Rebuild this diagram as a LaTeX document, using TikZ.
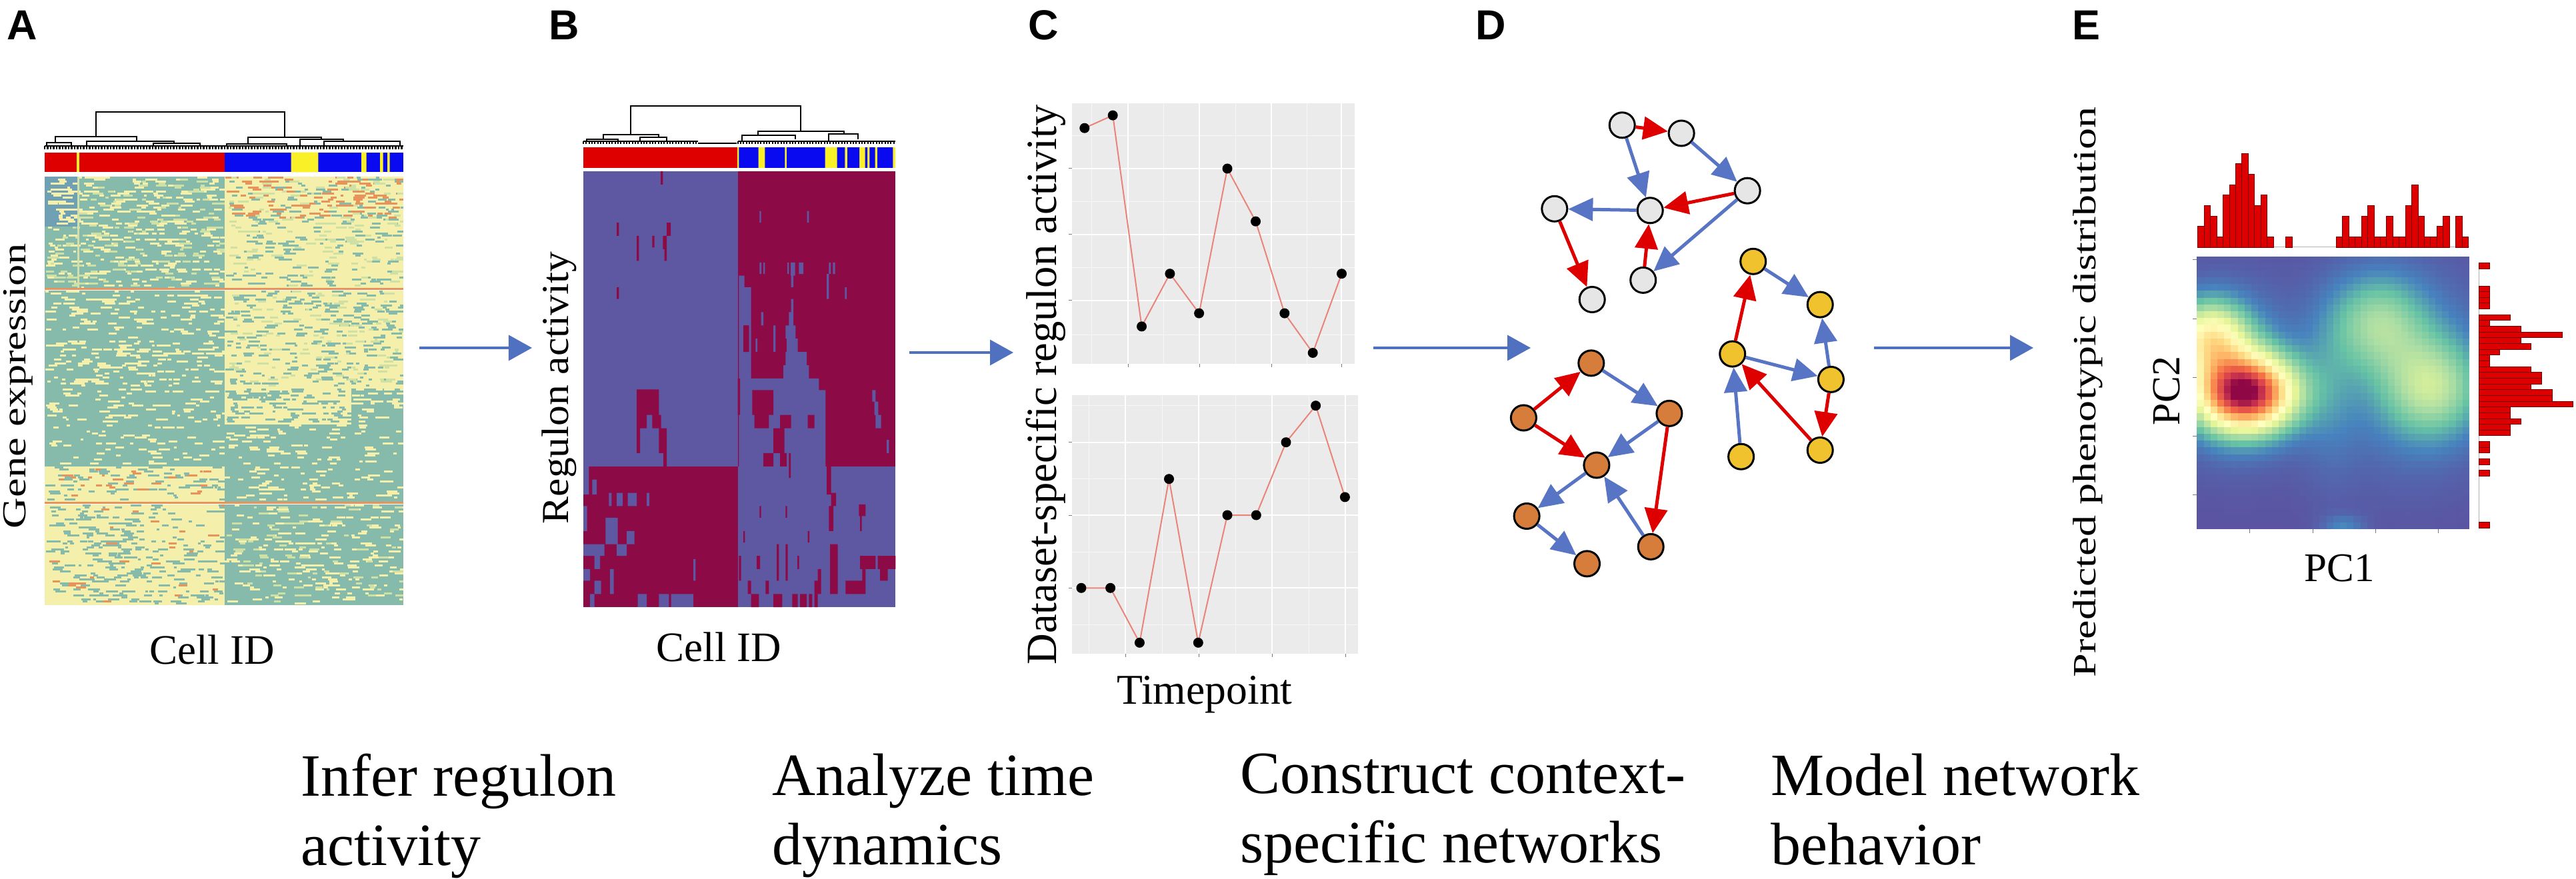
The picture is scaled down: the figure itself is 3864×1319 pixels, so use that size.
\documentclass[tikz,border=0pt]{standalone}
\usepackage{fontspec}
\usepackage{graphicx}
\setmainfont{Liberation Serif}
\setsansfont{Liberation Sans}
\usetikzlibrary{arrows.meta}
\usetikzlibrary{positioning}
\definecolor{flowblue}{RGB}{80,112,192}
\definecolor{edgered}{RGB}{222,0,0}
\definecolor{edgeblue}{RGB}{88,116,196}
\definecolor{nodegrey}{RGB}{230,230,230}
\definecolor{nodeorange}{RGB}{214,125,60}
\definecolor{nodeyellow}{RGB}{240,194,46}
\definecolor{hmteal}{RGB}{134,186,170}
\definecolor{hmdeep}{RGB}{112,160,180}
\definecolor{hmyellow}{RGB}{244,240,172}
\definecolor{hmlime}{RGB}{206,224,164}
\definecolor{hmorange}{RGB}{232,146,92}
\definecolor{barred}{RGB}{222,0,0}
\definecolor{barblue}{RGB}{10,10,240}
\definecolor{baryellow}{RGB}{250,240,40}
\definecolor{actblue}{RGB}{94,88,163}
\definecolor{actred}{RGB}{140,10,70}
\definecolor{gggrey}{RGB}{235,235,235}
\definecolor{ggtick}{RGB}{120,120,120}
\definecolor{ggtrace}{RGB}{232,132,122}
\definecolor{histred}{RGB}{222,0,0}
\definecolor{histedge}{RGB}{110,0,0}
\definecolor{sp0}{HTML}{5B53A1}
\definecolor{sp1}{HTML}{4782BE}
\definecolor{sp2}{HTML}{66C2A5}
\definecolor{sp3}{HTML}{ABDDA4}
\definecolor{sp4}{HTML}{E6F598}
\definecolor{sp5}{HTML}{FFFFBF}
\definecolor{sp6}{HTML}{FEE08B}
\definecolor{sp7}{HTML}{FDAE61}
\definecolor{sp8}{HTML}{F46D43}
\definecolor{sp9}{HTML}{D53E4F}
\definecolor{sp10}{HTML}{8E0645}
\newcommand\fsstep{\fontsize{25.6pt}{29.6pt}\selectfont}
\newcommand\fsaxis{\fontsize{17.9pt}{20pt}\selectfont}
\newcommand\fspanel{\sffamily\bfseries\fontsize{17.9pt}{20pt}\selectfont}
\tikzset{flow/.style = {flowblue, line width=0.035cm, -{Triangle[length=0.35cm, width=0.38cm]}}}
\tikzset{gene/.style = {circle, draw=black, line width=0.03cm, minimum size=0.38cm, inner sep=0}}
\tikzset{redarc/.style = {edgered, line width=0.05cm, -{Triangle[length=0.37cm, width=0.34cm]}}}
\tikzset{bluearc/.style = {edgeblue, line width=0.05cm, -{Triangle[length=0.37cm, width=0.34cm]}}}
\tikzset{dendro/.style = {black, line width=0.021cm}}
\tikzset{ggmajor/.style = {white, line width=0.02cm}}
\tikzset{ggminor/.style = {white!60!gggrey, line width=0.01cm}}
\tikzset{ggaxis/.style = {ggtick, line width=0.01cm}}
\tikzset{histbar/.style = {fill=histred, draw=histedge, line width=0.008cm}}
\tikzset{steplabel/.style = {anchor=north west, align=left, inner sep=0, font=\fsstep}}
\tikzset{panel/.style = {anchor=base west, inner sep=0, font=\fspanel}}
\tikzset{declare function={
  gs(\ux,\uy,\ca,\cb,\wa,\wc)=exp(-min(0.5*(((\ux-\ca)/\wa)*((\ux-\ca)/\wa)+((\uy-\cb)/\wc)*((\uy-\cb)/\wc)),9));
  dens(\ux,\uy)=0.92*gs(\ux,\uy,3368,590,52,40)+0.45*gs(\ux,\uy,3315,505,40,38)
    +0.12*gs(\ux,\uy,3350,560,70,85)+0.22*gs(\ux,\uy,3565,482,50,50)
    +0.25*gs(\ux,\uy,3650,582,50,52)+0.12*gs(\ux,\uy,3610,560,85,100)
    +0.06*gs(\ux,\uy,3495,600,30,90)+0.1*gs(\ux,\uy,3515,790,22,12);
}}
\newcommand\hmspeck[6]{%
  \foreach \k in {1,...,#6}{%
    \pgfmathsetmacro\sx{#1+rnd*(#2-#1-4)}%
    \pgfmathsetmacro\se{min(\sx+4+rnd*14,#2)}%
    \pgfmathsetmacro\sy{#3+3*int(rnd*(#4-#3-3)/3)}%
    \fill[#5] (\sx,\sy) rectangle (\se,\sy+3);}}
\newcommand\hmband[7]{%
  \fill[#5] (#1,#3) rectangle (#2,#4);
  \hmspeck{#1}{#2}{#3}{#4}{#6}{#7}}
\newcommand\leafcomb[5]{%
  \draw[dendro] (#1,#3) -- (#2,#3);
  \pgfmathtruncatemacro\nleaf{(#2-#1)/#5}%
  \foreach \k in {0,...,\nleaf}{\draw[dendro] ({#1+\k*#5},#3) -- ({#1+\k*#5},#4);}}

\begin{document}
\begin{tikzpicture}[x=0.01cm, y=-0.01cm]
\useasboundingbox (0,0) rectangle (3864,1319);
\fill[white] (0,0) rectangle (3864,1319);
\pgfmathsetseed{11}

\node[panel] (lblA) at (10,60) {A};
\node[panel] (lblB) at (823,60) {B};
\node[panel] (lblC) at (1542,60) {C};
\node[panel] (lblD) at (2213,60) {D};
\node[panel] (lblE) at (3108,60) {E};

% gene expression heatmap
\draw[dendro] (144.4,204.7) |- (427.4,168.4) -- (427.4,206);
\draw[dendro] (83.3,214) |- (205.4,204.7) -- (205.4,211.6);
\draw[dendro] (371.9,216) |- (482.2,206) -- (482.2,208.7);
\draw[dendro] (70,219) |- (107,214) -- (107,219);
\draw[dendro] (130,219) |- (261,211.6) -- (261,215);
\draw[dendro] (230,219) |- (300,215) -- (300,219);
\draw[dendro] (340,219) |- (430,216) -- (430,219);
\draw[dendro] (450,219) |- (515,208.7) -- (515,212);
\draw[dendro] (486,219) |- (600,212) -- (600,219);
\leafcomb{67}{605}{219}{224}{4.5}
\fill[barred] (66.6,228.6) rectangle (336.8,258.4);
\fill[baryellow] (115,228.6) rectangle (119,258.4);
\fill[barblue] (336.8,228.6) rectangle (605,258.4);
\fill[baryellow] (436.7,228.6) rectangle (477.4,258.4) (542,228.6) rectangle (549.5,258.4)
  (570,228.6) rectangle (574.7,258.4) (581,228.6) rectangle (584.7,258.4);
\hmband{67}{337}{265}{434}{hmteal}{hmyellow}{340}
\hmspeck{67}{337}{265}{434}{hmlime}{160}
\hmband{67}{116}{265}{340}{hmdeep}{hmyellow}{40}
\fill[hmyellow!70!hmteal] (116,265) rectangle (119,434);
\hmband{337}{605}{265}{434}{hmyellow}{hmteal}{220}
\hmspeck{337}{605}{265}{330}{hmorange}{120}
\hmspeck{337}{605}{265}{434}{hmlime}{120}
\fill[hmorange] (67,432) rectangle (605,435);
\hmband{67}{337}{436}{511}{hmteal}{hmyellow}{120}
\hmband{337}{605}{436}{511}{hmyellow}{hmteal}{140}
\hmband{67}{337}{511}{583}{hmteal}{hmyellow}{160}
\hmband{337}{605}{511}{583}{hmyellow}{hmteal}{120}
\hmspeck{337}{605}{436}{583}{hmlime}{100}
\hmband{67}{337}{583}{637}{hmteal}{hmyellow}{70}
\hmband{337}{527}{583}{637}{hmyellow}{hmteal}{120}
\hmband{527}{605}{583}{637}{hmteal}{hmyellow}{30}
\hmband{67}{337}{637}{700}{hmteal}{hmyellow}{60}
\hmband{337}{605}{637}{700}{hmteal}{hmyellow}{70}
\hmband{67}{337}{700}{754}{hmyellow}{hmteal}{90}
\hmspeck{67}{337}{700}{754}{hmorange}{24}
\hmband{337}{605}{700}{754}{hmteal}{hmyellow}{70}
\fill[hmorange] (67,753) rectangle (605,756);
\hmband{67}{337}{757}{908}{hmyellow}{hmteal}{240}
\hmspeck{117}{216}{757}{908}{hmteal}{80}
\hmspeck{67}{337}{757}{908}{hmorange}{24}
\hmband{337}{605}{757}{908}{hmteal}{hmyellow}{200}
\hmspeck{337}{605}{757}{908}{hmlime}{80}
\node[rotate=90, inner sep=0] (ylabA) at (27,579) {\fontsize{18.35pt}{20pt}\selectfont\scalebox{1}[0.78]{Gene expression}};
\node[anchor=base, inner sep=0, font=\fsaxis] (xlabA) at (318,996) {Cell ID};

% regulon activity heatmap
\begin{scope}[shift={(860,150)}, xscale=0.33333, yscale=0.49751]
\draw[dendro] (257,105) |- (1023,18) -- (1023,95);
\draw[dendro] (135,118) |- (383,105) -- (383,112);
\draw[dendro] (830,107) |- (1217,95) -- (1217,103);
\draw[dendro] (60,125) |- (200,118) -- (200,125);
\draw[dendro] (300,125) |- (420,112) -- (420,125);
\draw[dendro] (760,125) |- (1000,107) -- (1000,118);
\draw[dendro] (1150,125) |- (1280,103) -- (1280,118);
\leafcomb{45}{560}{125}{132}{13}
\draw[dendro] (560,130) -- (735,130);
\leafcomb{740}{1450}{125}{132}{13}
\fill[barred] (45,143) rectangle (737,205);
\fill[baryellow] (737,143) rectangle (1450,205);
\fill[barblue] (745,143) rectangle (833,205) (862,143) rectangle (952,205) (960,143) rectangle (1133,205)
  (1187,143) rectangle (1222,205) (1233,143) rectangle (1287,205) (1313,143) rectangle (1323,205)
  (1333,143) rectangle (1358,205) (1368,143) rectangle (1438,205);
\fill[actblue] (45,215) rectangle (1450,1530);
\fill[actred] (740,215) rectangle (1450,1105);
\fill[actred] (45,1105) rectangle (740,1530);
\fill[actblue] (745,530) rectangle (770,565) (745,565) rectangle (800,680) (745,680) rectangle (765,1105)
  (790,680) rectangle (800,1105) (765,760) rectangle (790,1105)
  (838,335) rectangle (845,370) (1052,335) rectangle (1060,370)
  (838,490) rectangle (846,525) (855,490) rectangle (862,525)
  (963,490) rectangle (970,525) (978,490) rectangle (998,530) (1015,490) rectangle (1035,525)
  (1150,490) rectangle (1158,525) (1168,490) rectangle (1178,525)
  (980,525) rectangle (990,565) (1140,525) rectangle (1150,600) (1222,565) rectangle (1230,600)
  (980,600) rectangle (990,640) (970,640) rectangle (990,680) (845,640) rectangle (855,680)
  (820,720) rectangle (828,760) (900,680) rectangle (910,760)
  (955,680) rectangle (1000,720) (960,720) rectangle (1010,760) (955,760) rectangle (1050,800)
  (945,800) rectangle (1060,840) (800,840) rectangle (1105,875) (800,875) rectangle (1135,1105)
  (1345,875) rectangle (1360,910) (1355,910) rectangle (1372,950) (1360,950) rectangle (1385,990)
  (1410,1025) rectangle (1420,1065)
  (45,1105) rectangle (70,1190) (85,1145) rectangle (105,1190)
  (160,1185) rectangle (172,1225) (195,1185) rectangle (222,1225) (245,1185) rectangle (285,1225)
  (330,1185) rectangle (342,1225) (45,1225) rectangle (62,1300)
  (145,1260) rectangle (200,1340) (240,1300) rectangle (275,1340)
  (45,1340) rectangle (140,1375) (195,1340) rectangle (240,1375) (95,1375) rectangle (120,1415)
  (45,1415) rectangle (75,1450) (165,1415) rectangle (182,1490) (95,1450) rectangle (125,1490)
  (75,1490) rectangle (95,1530) (290,1490) rectangle (330,1530) (385,1490) rectangle (430,1530)
  (440,1490) rectangle (540,1530) (540,1385) rectangle (550,1450);
\fill[actred] (393,215) rectangle (403,255)
  (195,370) rectangle (205,410) (420,370) rectangle (438,410)
  (285,410) rectangle (295,485) (355,410) rectangle (365,445) (403,410) rectangle (420,450)
  (410,450) rectangle (420,485) (195,565) rectangle (205,600)
  (285,873) rectangle (385,950) (285,950) rectangle (330,990) (355,950) rectangle (395,990)
  (285,990) rectangle (300,1065) (385,990) rectangle (420,1065) (405,1065) rectangle (420,1105)
  (765,680) rectangle (790,760) (740,840) rectangle (750,950)
  (805,875) rectangle (900,950) (815,950) rectangle (880,990) (930,950) rectangle (980,990)
  (900,990) rectangle (950,1065) (1055,950) rectangle (1085,990)
  (855,1065) rectangle (900,1105) (930,1065) rectangle (960,1105) (970,1065) rectangle (978,1140)
  (1140,1105) rectangle (1160,1190) (1160,1185) rectangle (1182,1225) (1150,1225) rectangle (1170,1300)
  (1155,1340) rectangle (1190,1490)
  (1285,1220) rectangle (1315,1255) (1290,1255) rectangle (1298,1300)
  (1290,1375) rectangle (1360,1415) (1370,1375) rectangle (1450,1415) (1380,1415) rectangle (1415,1450)
  (1225,1450) rectangle (1315,1490) (1300,1415) rectangle (1315,1450)
  (838,1225) rectangle (845,1260) (955,1225) rectangle (962,1260) (765,1300) rectangle (772,1335)
  (1055,1300) rectangle (1062,1335) (745,1375) rectangle (755,1450) (825,1375) rectangle (840,1415)
  (915,1340) rectangle (925,1450) (955,1340) rectangle (965,1450) (1008,1375) rectangle (1016,1415)
  (785,1450) rectangle (800,1490) (865,1450) rectangle (880,1490) (1100,1415) rectangle (1115,1490)
  (1085,1450) rectangle (1100,1530) (800,1490) rectangle (835,1530) (900,1490) rectangle (940,1530)
  (985,1490) rectangle (1010,1530) (1020,1490) rectangle (1050,1530) (1060,1490) rectangle (1075,1530);
\end{scope}
\node[rotate=90, inner sep=0] (ylabB) at (839,582) {\fontsize{17.5pt}{20pt}\selectfont\scalebox{1}[0.93]{Regulon activity}};
\node[anchor=base, inner sep=0, font=\fsaxis] (xlabB) at (1078.5,992) {Cell ID};

% time courses
\fill[gggrey] (1608,155) rectangle (2032,546);
\foreach \yy in {203.9,302.5,401.5,502.4} \draw[ggminor] (1608,\yy) -- (2032,\yy);
\foreach \xx in {1637,1745,1853,1960} \draw[ggminor] (\xx,155) -- (\xx,546);
\foreach \yy in {253,352,451} {\draw[ggmajor] (1608,\yy) -- (2032,\yy); \draw[ggaxis] (1603,\yy) -- (1608,\yy);}
\foreach \xx in {1692,1799,1907,2012} {\draw[ggmajor] (\xx,155) -- (\xx,546); \draw[ggaxis] (\xx,546) -- (\xx,551);}
\draw[ggtrace, line width=0.02cm] plot coordinates {(1626.8,192.2) (1669.2,173.1) (1712.5,489.9) (1754.9,410.7) (1798.6,470.1) (1841,253) (1883.5,332.2) (1926.8,470.1) (1969.2,529.5) (2012.5,410.7)};
\foreach \pt in {(1626.8,192.2),(1669.2,173.1),(1712.5,489.9),(1754.9,410.7),(1798.6,470.1),(1841,253),(1883.5,332.2),(1926.8,470.1),(1969.2,529.5),(2012.5,410.7)}
  \fill[black] \pt circle[radius=7.5];
\fill[gggrey] (1608,593) rectangle (2037,981);
\foreach \yy in {608.7,718.7,828.7,937.3} \draw[ggminor] (1608,\yy) -- (2037,\yy);
\foreach \xx in {1633,1743,1853,1963} \draw[ggminor] (\xx,593) -- (\xx,981);
\foreach \yy in {663.7,773,882.3} {\draw[ggmajor] (1608,\yy) -- (2037,\yy); \draw[ggaxis] (1603,\yy) -- (1608,\yy);}
\foreach \xx in {1688,1798,1908,2018} {\draw[ggmajor] (\xx,593) -- (\xx,981); \draw[ggaxis] (\xx,981) -- (\xx,986);}
\draw[ggtrace, line width=0.02cm] plot coordinates {(1621.9,882.3) (1665.6,882.3) (1709.4,964.4) (1753.5,718.7) (1797.3,964.4) (1841,773) (1884.3,773) (1929,663.7) (1973.6,608.7) (2017.4,745.9)};
\foreach \pt in {(1621.9,882.3),(1665.6,882.3),(1709.4,964.4),(1753.5,718.7),(1797.3,964.4),(1841,773),(1884.3,773),(1929,663.7),(1973.6,608.7),(2017.4,745.9)}
  \fill[black] \pt circle[radius=7.5];
\node[rotate=90, inner sep=0] (ylabC) at (1568.5,577.5) {\fontsize{18.38pt}{20pt}\selectfont Dataset-specific regulon activity};
\node[anchor=base, inner sep=0, font=\fontsize{18.1pt}{20pt}\selectfont] (xlabC) at (1807,1056) {Timepoint};

% context-specific networks
\node[gene, fill=nodegrey] (g1) at (2433.2,187.8) {};
\node[gene, fill=nodegrey] (g2) at (2522.1,200) {};
\node[gene, fill=nodegrey] (g3) at (2621.1,286.2) {};
\node[gene, fill=nodegrey] (g4) at (2475.2,315.8) {};
\node[gene, fill=nodegrey] (g5) at (2331.8,313.3) {};
\node[gene, fill=nodegrey] (g6) at (2464.7,420.4) {};
\node[gene, fill=nodegrey] (g7) at (2388.2,449.5) {};
\draw[redarc] (g1) -- (g2);
\draw[bluearc] (g1) -- (g4);
\draw[bluearc] (g2) -- (g3);
\draw[redarc] (g3) -- (g4);
\draw[bluearc] (g3) -- (g6);
\draw[bluearc] (g4) -- (g5);
\draw[redarc] (g6) -- (g4);
\draw[redarc] (g5) -- (g7);
\node[gene, fill=nodeorange] (o1) at (2386.8,544.9) {};
\node[gene, fill=nodeorange] (o2) at (2285.4,627) {};
\node[gene, fill=nodeorange] (o3) at (2503.9,620.4) {};
\node[gene, fill=nodeorange] (o4) at (2394.9,698) {};
\node[gene, fill=nodeorange] (o5) at (2290.1,774.5) {};
\node[gene, fill=nodeorange] (o6) at (2476.2,820.4) {};
\node[gene, fill=nodeorange] (o7) at (2380.5,845.9) {};
\draw[redarc] (o2) -- (o1);
\draw[bluearc] (o1) -- (o3);
\draw[redarc] (o2) -- (o4);
\draw[bluearc] (o3) -- (o4);
\draw[redarc] (o3) -- (o6);
\draw[bluearc] (o6) -- (o4);
\draw[bluearc] (o4) -- (o5);
\draw[bluearc] (o5) -- (o7);
\node[gene, fill=nodeyellow] (y1) at (2629.7,392.3) {};
\node[gene, fill=nodeyellow] (y2) at (2730.2,457.1) {};
\node[gene, fill=nodeyellow] (y3) at (2598.7,531.1) {};
\node[gene, fill=nodeyellow] (y4) at (2746.4,569.4) {};
\node[gene, fill=nodeyellow] (y5) at (2730.2,675.5) {};
\node[gene, fill=nodeyellow] (y6) at (2611.6,685.2) {};
\draw[redarc] (y3) -- (y1);
\draw[bluearc] (y1) -- (y2);
\draw[bluearc] (y4) -- (y2);
\draw[bluearc] (y3) -- (y4);
\draw[redarc] (y4) -- (y5);
\draw[redarc] (y5) -- (y3);
\draw[bluearc] (y6) -- (y3);

% phenotype distribution
\foreach \i in {0,...,39}{
  \foreach \j in {0,...,39}{
    \pgfmathsetmacro\v{dens(3295.3+(\i+0.5)*10.22,385.3+(\j+0.5)*10.22)}
    \pgfmathsetmacro\pos{10*min(\v,0.999)}
    \pgfmathtruncatemacro\lo{\pos}
    \pgfmathtruncatemacro\hi{\lo+1}
    \pgfmathtruncatemacro\mix{100*(\pos-\lo)}
    \fill[sp\hi!\mix!sp\lo] ({3295.3+\i*10.22},{385.3+\j*10.22}) rectangle +(10.4,10.4);
  }}
\foreach \yy in {390,478.3,566.7,655,742.3} \draw[ggaxis] (3289,\yy) -- (3295.3,\yy);
\foreach \xx in {3374.3,3469,3563,3657.3} \draw[ggaxis] (\xx,794) -- (\xx,800);
\draw[ggaxis, gray!60] (3296.7,371) -- (3704,371);
\foreach \h [count=\k from 0] in {2,4,3,1,5,6,8,9,7,4,5,1,0,0,1,0,0,0,0,0,0,0,1,3,1,1,3,4,1,1,3,1,1,4,6,3,1,1,2,3,0,3,1}
  {\ifnum\h>0 \draw[histbar] ({3296.7+\k*9.434},371) rectangle +(9.434,{-\h*15.67}); \fi}
\draw[ggaxis, gray!60] (3718.3,394.3) -- (3718.3,792.3);
\foreach \h [count=\k from 0] in {1,0,0,0,1,1,1,1,0,3,1,4,8,4,5,2,1,1,5,6,6,5,7,7,9,3,3,4,3,3,0,1,1,0,1,0,1,0,0,0,0,0,0,0,0,1}
  {\ifnum\h>0 \draw[histbar] (3718.3,{394.3+\k*8.653}) rectangle +({\h*15.67},8.653); \fi}
\node[rotate=90, inner sep=0] (ylabE) at (3250,586.6) {\fontsize{17pt}{20pt}\selectfont PC2};
\node[anchor=base, inner sep=0, font=\fontsize{17.36pt}{20pt}\selectfont] (xlabE) at (3509.5,872.7) {PC1};
\node[rotate=90, inner sep=0] (ylabDist) at (3132,588.5) {\fontsize{18.24pt}{20pt}\selectfont\scalebox{1}[0.76]{Predicted phenotypic distribution}};

% workflow
\coordinate (flowAs) at (629,522);
\coordinate (flowAe) at (798,522);
\coordinate (flowBs) at (1364,529);
\coordinate (flowBe) at (1520,529);
\coordinate (flowCs) at (2060,522);
\coordinate (flowCe) at (2296,522);
\coordinate (flowDs) at (2811,522);
\coordinate (flowDe) at (3050,522);
\draw[flow] (flowAs) -- (flowAe);
\draw[flow] (flowBs) -- (flowBe);
\draw[flow] (flowCs) -- (flowCe);
\draw[flow] (flowDs) -- (flowDe);
\node[steplabel] (stepInfer) at (451,1130) {Infer regulon\\activity};
\node[steplabel] (stepTime) at (1158,1130) {Analyze time\\dynamics};
\node[steplabel] (stepNet) at (1860,1130) {Construct context-\\specific networks};
\node[steplabel] (stepModel) at (2656,1130) {Model network\\behavior};
\end{tikzpicture}
\end{document}
